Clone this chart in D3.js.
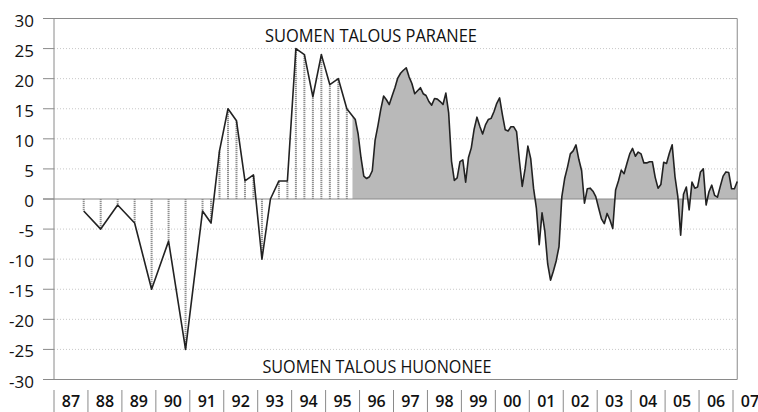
<!DOCTYPE html>
<html>
<head>
<meta charset="utf-8">
<script src="https://cdn.jsdelivr.net/npm/d3@7"></script>
<style>
  body { margin: 0; background: #fff; }
  text { font-family: "Open Sans", sans-serif; fill: #111; }
</style>
</head>
<body>
<svg id="chart" width="758" height="412"></svg>
<script>
// Year labels under the axis
var yearLabels = ["87","88","89","90","91","92","93","94","95","96","97",
                  "98","99","00","01","02","03","04","05","06","07"];
var firstYear = 1987;

// Y axis ticks
var yTicks = [30, 25, 20, 15, 10, 5, 0, -5, -10, -15, -20, -25, -30];

// Early survey rounds (half-yearly, then quarterly)
var earlyMonths = ["1987-11","1988-05","1988-11","1989-05","1989-11","1990-05",
                   "1990-11","1991-05","1991-08","1991-11","1992-02","1992-05",
                   "1992-08","1992-11","1993-02","1993-05","1993-08","1993-11",
                   "1994-02","1994-05","1994-08","1994-11","1995-02","1995-05","1995-08"];
var earlyValues = [-2, -5, -1, -4, -15, -7,
                   -25, -2, -4, 8, 15, 13,
                   3, 4, -10, 0, 3, 3,
                   25, 24, 17, 24, 19, 20, 15];

// Monthly series from October 1995
var monthlyStart = "1995-10";
var monthlyValues = [
  13.8, 13.2, 10.8, 6.9, 3.8, 3.4, 3.7, 4.7, 9.8, 12.2, 14.9, 17.1,
  16.5, 15.7, 17.1, 18.5, 20.1, 20.9, 21.4, 21.8, 20.3, 19.2, 17.5, 18.0,
  18.5, 17.5, 17.2, 16.2, 15.6, 16.7, 16.6, 16.2, 15.7, 17.6, 14.3, 6.3,
  3.1, 3.5, 6.2, 6.5, 2.8, 6.9, 8.5, 11.6, 13.6, 12.1, 10.8, 12.3,
  13.2, 13.4, 14.5, 15.9, 16.8, 14.0, 11.5, 11.3, 12.0, 12.0, 11.2, 6.4,
  2.1, 5.0, 8.8, 6.7, 1.8, -1.5, -7.6, -2.3, -5.4, -10.8, -13.5, -12.0,
  -10.3, -7.9, 0.4, 3.4, 5.3, 7.5, 8.0, 9.0, 6.6, 4.7, -0.7, 1.7,
  1.8, 1.3, 0.4, -1.5, -3.3, -4.1, -2.4, -3.5, -4.9, 1.5, 3.0, 4.8,
  4.2, 5.9, 7.5, 8.4, 7.1, 7.8, 7.5, 6.0, 6.0, 6.2, 6.2, 3.6,
  1.8, 2.4, 6.1, 5.9, 7.6, 9.0, 3.7, 0.4, -6.0, 0.8, 2.0, -1.8,
  2.8, 1.8, 2.0, 4.5, 5.0, -1.0, 1.2, 2.3, 0.6, 0.3, 2.1, 3.8,
  4.5, 4.4, 1.7, 1.7, 2.9
];

var labelTop = "SUOMEN TALOUS PARANEE";
var labelBottom = "SUOMEN TALOUS HUONONEE";

// month string -> decimal year (middle of month)
function decYear(s) {
  var p = s.split("-");
  return +p[0] + (+p[1] - 0.5) / 12;
}

var early = earlyMonths.map(function(m, i) { return { t: decYear(m), v: earlyValues[i] }; });
var startT = decYear(monthlyStart);
var monthly = monthlyValues.map(function(v, i) { return { t: startT + i / 12, v: v }; });
var all = early.concat(monthly);

var svg = d3.select("#chart");

var x = d3.scaleLinear().domain([1987, 2007]).range([54, 733]);
var y = d3.scaleLinear().domain([-30, 30]).range([379.5, 18.5]);

var left = x(1987), right = x(monthly[monthly.length - 1].t);

// Dotted grid lines
svg.append("g").selectAll("line")
  .data(yTicks.filter(function(d) { return d !== 0 && Math.abs(d) !== 30; }))
  .enter().append("line")
    .attr("x1", left).attr("x2", right)
    .attr("y1", function(d) { return y(d); })
    .attr("y2", function(d) { return y(d); })
    .attr("stroke", "#c8c8c8")
    .attr("stroke-width", 1)
    .attr("stroke-dasharray", "1,2");

// Monthly part: shaded area
var area = d3.area()
  .x(function(d) { return x(d.t); })
  .y0(y(0))
  .y1(function(d) { return y(d.v); });

svg.append("path")
  .datum(monthly)
  .attr("d", area)
  .attr("fill", "#b9b9b9");

// Early part: drop lines to zero
svg.append("g").selectAll("line")
  .data(early)
  .enter().append("line")
    .attr("x1", function(d) { return x(d.t); })
    .attr("x2", function(d) { return x(d.t); })
    .attr("y1", y(0))
    .attr("y2", function(d) { return y(d.v); })
    .attr("stroke", "#8e8e8e")
    .attr("stroke-width", 2)
    .attr("stroke-dasharray", "1.2,0.8");

// Frame lines
var frame = svg.append("g").attr("stroke", "#8a8a8a").attr("stroke-width", 1);
[30, 0, -30].forEach(function(v) {
  frame.append("line")
    .attr("x1", 43).attr("x2", right)
    .attr("y1", y(v)).attr("y2", y(v));
});
frame.append("line").attr("x1", left).attr("x2", left).attr("y1", y(30)).attr("y2", y(-30));
frame.append("line").attr("x1", right).attr("x2", right).attr("y1", y(30)).attr("y2", y(-30));

// Tick marks and labels on y
svg.append("g").selectAll("line")
  .data(yTicks)
  .enter().append("line")
    .attr("x1", 43).attr("x2", left)
    .attr("y1", function(d) { return y(d); })
    .attr("y2", function(d) { return y(d); })
    .attr("stroke", "#8a8a8a");

svg.append("g").selectAll("text")
  .data(yTicks)
  .enter().append("text")
    .attr("x", 34)
    .attr("y", function(d) { return y(d) + 8; })
    .attr("text-anchor", "end")
    .style("font-size", "17px")
    .text(function(d) { return d; });

// Data line
var line = d3.line()
  .x(function(d) { return x(d.t); })
  .y(function(d) { return y(d.v); });

svg.append("path")
  .datum(all)
  .attr("d", line)
  .attr("fill", "none")
  .attr("stroke", "#222")
  .attr("stroke-width", 1.6)
  .attr("stroke-linejoin", "round");

// Year labels and separators
var yearsG = svg.append("g");
yearsG.selectAll("line")
  .data(yearLabels)
  .enter().append("line")
    .attr("x1", function(d, i) { return x(firstYear + i); })
    .attr("x2", function(d, i) { return x(firstYear + i); })
    .attr("y1", 390).attr("y2", 412)
    .attr("stroke", "#8a8a8a");

yearsG.selectAll("text")
  .data(yearLabels)
  .enter().append("text")
    .attr("x", function(d, i) { return x(firstYear + i + 0.5); })
    .attr("y", 407)
    .attr("text-anchor", "middle")
    .style("font-size", "16px")
    .style("font-weight", "600")
    .text(function(d) { return d; });

// Annotations
svg.append("text")
  .attr("x", 371).attr("y", 42)
  .attr("text-anchor", "middle")
  .attr("textLength", 212)
  .attr("lengthAdjust", "spacingAndGlyphs")
  .style("font-size", "18.5px")
  .text(labelTop);

svg.append("text")
  .attr("x", 377).attr("y", 373)
  .attr("text-anchor", "middle")
  .attr("textLength", 229)
  .attr("lengthAdjust", "spacingAndGlyphs")
  .style("font-size", "19px")
  .text(labelBottom);
</script>
</body>
</html>
